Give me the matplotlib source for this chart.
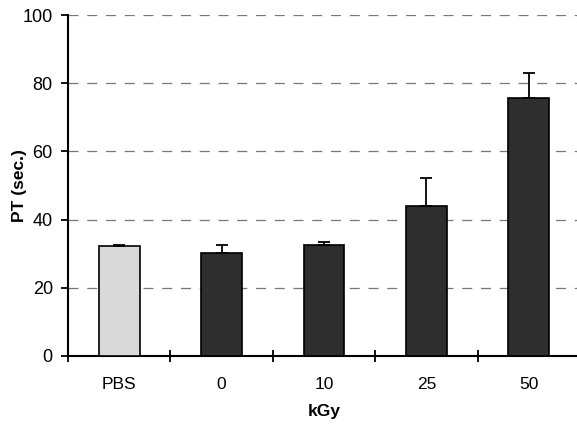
import matplotlib
matplotlib.use("Agg")
import matplotlib.pyplot as plt
import numpy as np

plt.rcParams['font.family'] = ['Liberation Sans', 'DejaVu Sans']

categories = ["PBS", "0", "10", "25", "50"]
values = [32.3, 30.3, 32.6, 44.1, 75.7]
errors = [0.3, 2.2, 0.7, 8.2, 7.2]
colors = ["#d9d9d9", "#2e2e2e", "#2e2e2e", "#2e2e2e", "#2e2e2e"]

fig = plt.figure(figsize=(5.77, 4.32), dpi=100)
ax = fig.add_axes([0.118, 0.176, 0.887, 0.789])

x = np.arange(len(categories))
ax.bar(x, values, width=0.4, color=colors, edgecolor="black", linewidth=1.2, zorder=3)
ax.errorbar(x, values, yerr=[np.zeros(len(errors)), errors], fmt="none",
            ecolor="black", elinewidth=1.3, capsize=4, capthick=1.3, zorder=4)

ax.set_xlim(-0.5, 4.5)
ax.set_ylim(0, 100)
ax.set_yticks(np.arange(0, 101, 20))
ax.yaxis.grid(True, linestyle=(0, (8, 7)), color="#777777", linewidth=0.9, zorder=0)
ax.set_axisbelow(True)

ax.set_xticks(x)
ax.set_xticklabels(categories)
ax.set_xticks(np.arange(-0.5, 5, 1.0), minor=True)
ax.tick_params(axis="x", which="major", length=0, pad=15, labelsize=12.5)
ax.tick_params(axis="x", which="minor", direction="inout", length=9, width=1.3)
ax.tick_params(axis="y", which="major", direction="out", length=5, width=1.3, labelsize=13, pad=6)

for s in ["top", "right"]:
    ax.spines[s].set_visible(False)
for s in ["left", "bottom"]:
    ax.spines[s].set_linewidth(1.5)

ax.set_ylabel("PT (sec.)", fontsize=12.5, fontweight="bold")
ax.yaxis.set_label_coords(-0.080, 0.5)
ax.set_xlabel("kGy", fontsize=12.5, fontweight="bold", labelpad=9)

fig.savefig("out.png", dpi=100)
